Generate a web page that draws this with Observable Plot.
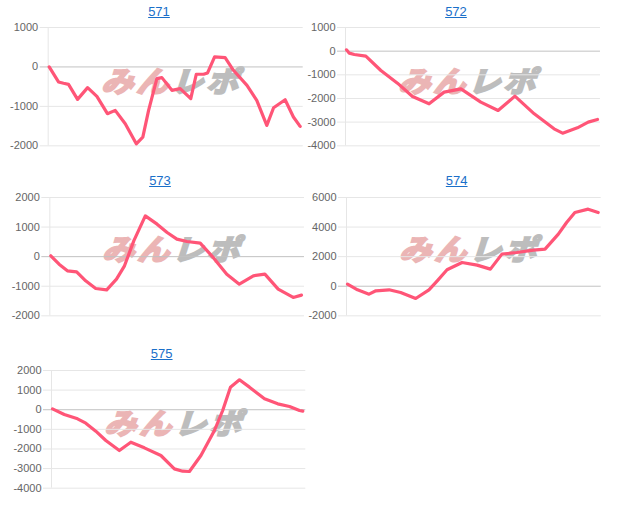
<!DOCTYPE html>
<html><head><meta charset="utf-8">
<script src="https://cdn.jsdelivr.net/npm/d3@7"></script>
<script src="https://cdn.jsdelivr.net/npm/@observablehq/plot@0.6"></script>
<style>
body{margin:0;background:#fff;}
#root{position:relative;width:624px;height:516px;overflow:hidden;font-family:"Liberation Sans",Arial,sans-serif;}
.title{position:absolute;width:80px;text-align:center;font-size:13px;color:#1a6fc9;text-decoration:underline;line-height:16px;}
.wm{position:absolute;width:180px;height:40px;text-align:center;line-height:40px;font-family:"Noto Sans CJK JP";font-weight:bold;font-size:32px;letter-spacing:3px;transform:skewX(-18deg) scaleY(0.9);white-space:nowrap;}
.wm span{-webkit-text-stroke:2.5px currentColor;}
.panel{position:absolute;}
</style></head><body><div id="root"></div><script>
// ---- data ----
const titles = ["571", "572", "573", "574", "575"];

const x571 = [0,3.7,5.7,7.7,11.3,15.3,19.0,23.2,26.3,30.3,34.7,37.3,39.6,42.9,44.9,48.9,52.2,56.4,58.6,61.5,63.1,65.9,70.1,73.4,78.8,82.7,86.7,89.4,94.0,97.3,99.7,100];
const y571 = [0,-381,-415,-441,-822,-525,-746,-1186,-1102,-1441,-1949,-1780,-1102,-297,-271,-593,-551,-805,-186,-186,-153,254,237,-85,-466,-847,-1483,-1034,-831,-1271,-1483,-1508];

const x572 = [0,1.1,3.1,7.7,13.7,20.3,26.3,32.9,38.9,45.6,53.5,60.4,67.1,74.8,82.7,86.1,92.0,96.3,100];
const y572 = [56,-85,-141,-211,-817,-1352,-1915,-2225,-1732,-1592,-2155,-2507,-1901,-2648,-3282,-3465,-3239,-3000,-2887];

const x573 = [0,3.3,6.6,10.3,13.9,17.9,22.3,26.2,29.4,33.1,37.7,42.4,46.4,50.3,54.3,59.6,64.2,70.2,75.2,80.8,85.4,90.7,96.7,100];
const y573 = [28,-254,-479,-513,-817,-1076,-1121,-761,-310,535,1380,1099,817,592,513,456,28,-592,-930,-648,-592,-1099,-1380,-1301];

const x574 = [0,4.0,8.6,11.3,16.6,21.2,27.2,32.5,35.8,39.7,45.7,51.7,57.0,61.6,67.5,74.2,78.8,84.1,87.4,90.7,96.0,100];
const y574 = [141,-242,-535,-310,-242,-423,-828,-242,366,1110,1606,1425,1155,2169,2282,2440,2507,3521,4310,4986,5211,4986];

const x575 = [0,4.7,10,13.3,17.3,21.3,26.7,31.3,36.7,43.3,48.7,52,54.7,59.3,64.7,68,71.1,74.7,78.7,84.7,90,94.7,98.7,100];
const y575 = [46,-243,-464,-685,-1093,-1569,-2079,-1654,-1943,-2334,-3014,-3133,-3150,-2334,-1059,-39,1151,1525,1151,556,301,165,-39,-73];

const yTicks = [
  [1000, 0, -1000, -2000],
  [1000, 0, -1000, -2000, -3000, -4000],
  [2000, 1000, 0, -1000, -2000],
  [6000, 4000, 2000, 0, -2000],
  [2000, 1000, 0, -1000, -2000, -3000, -4000]
];
const xs = [x571, x572, x573, x574, x575];
const ys = [y571, y572, y573, y574, y575];

// ---- layout (pixels) ----
const layout = [
  {svgLeft: 0,   plotLeft: 47.7, plotRight: 302.7, top: 27,    bottom: 145.3, tx: 159,   ty: 12,  wx: 175,   wy: 78.5},
  {svgLeft: 300, plotLeft: 345,  plotRight: 600,   top: 27,    bottom: 145.3, tx: 456,   ty: 12,  wx: 471.5, wy: 78.5},
  {svgLeft: 0,   plotLeft: 49.3, plotRight: 304,   top: 196.7, bottom: 315,   tx: 160,   ty: 181, wx: 175.5, wy: 246.5},
  {svgLeft: 300, plotLeft: 346,  plotRight: 600.7, top: 196.7, bottom: 315,   tx: 456.7, ty: 181, wx: 472.5, wy: 246.5},
  {svgLeft: 0,   plotLeft: 51,   plotRight: 305.3, top: 370,   bottom: 487.7, tx: 161.7, ty: 354, wx: 177.5, wy: 420.5}
];

const root = document.getElementById("root");
const pad = 8;
const xDomain = [-0.4, 101.2];

titles.forEach((t, i) => {
  const L = layout[i];
  // watermark (behind)
  const wm = document.createElement("div");
  wm.className = "wm";
  wm.style.left = (L.wx - 90) + "px";
  wm.style.top = (L.wy - 20) + "px";
  wm.innerHTML = '<span style="color:#ebb5b5">みん</span><span style="color:#bdbdbd">レポ</span>';
  root.appendChild(wm);

  const data = xs[i].map((x, k) => ({x, y: ys[i][k]}));
  const ticks = yTicks[i];
  const w = 312;
  const h = (L.bottom - L.top) + 2 * pad;
  const chart = Plot.plot({
    width: w,
    height: h,
    marginLeft: L.plotLeft - L.svgLeft,
    marginRight: w - (L.plotRight - L.svgLeft),
    marginTop: pad,
    marginBottom: pad,
    x: {domain: xDomain, axis: null},
    y: {domain: [d3.min(ticks), d3.max(ticks)], label: null},
    style: {background: "transparent", overflow: "visible", fontFamily: "'Liberation Sans', Arial, sans-serif", fontSize: "11px"},
    marks: [
      Plot.ruleY(ticks.filter(v => v !== 0), {stroke: "#e6e6e6", insetLeft: -8}),
      Plot.ruleX([xDomain[0]], {stroke: "#e6e6e6"}),
      Plot.ruleY([0], {stroke: "#c2c2c2", insetLeft: -8}),
      Plot.axisY(ticks, {tickSize: 0, tickPadding: 10, fill: "#666", fontSize: 11, label: null, tickFormat: d => String(d)}),
      Plot.line(data, {x: "x", y: "y", stroke: "#ff5577", strokeWidth: 3.2, strokeLinejoin: "round", strokeLinecap: "round"})
    ]
  });
  const div = document.createElement("div");
  div.className = "panel";
  div.style.left = L.svgLeft + "px";
  div.style.top = (L.top - pad) + "px";
  div.appendChild(chart);
  root.appendChild(div);

  const tt = document.createElement("div");
  tt.className = "title";
  tt.textContent = t;
  tt.style.left = (L.tx - 40) + "px";
  tt.style.top = (L.ty - 8) + "px";
  root.appendChild(tt);
});
</script></body></html>
